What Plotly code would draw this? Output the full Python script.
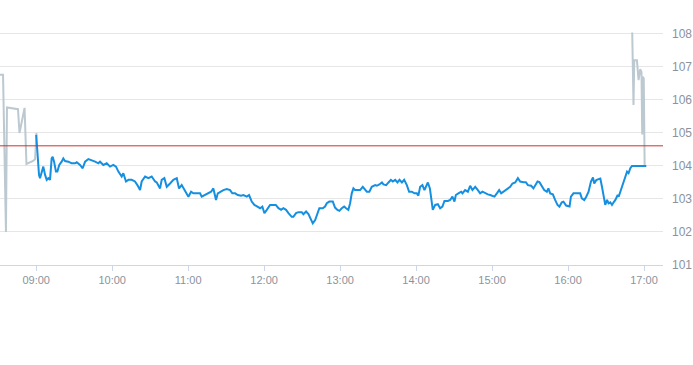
import pandas as pd
import plotly.graph_objects as go

# ---- data ----
session_day = "2024-01-02 09:00"
prev_close = 104.61

# main session (blue): minutes after 09:00, price
main_minutes = [0, 2.2, 3.0, 4.3, 5.6, 7.0, 8.3, 9.6, 10.9, 12.2, 13.0, 14.1, 15.6, 16.7, 18.2, 20.1,
                21.4, 22.8, 25.4, 28.0, 30.7, 32.0, 34.6, 36.7, 38.6, 41.2, 43.8, 46.5, 49.1, 50.4,
                53.0, 55.7, 58.3, 60.9, 63.0, 64.9, 67.5, 68.8, 70.9, 72.8, 75.4, 78.0, 79.9, 82.0,
                83.3, 86.0, 88.6, 91.2, 93.9, 95.2, 97.8, 99.1, 101.2, 103.1, 105.7, 108.3, 111.0,
                112.8, 114.9, 117.0, 120.2, 122.3, 124.1, 126.8, 129.4, 130.7, 133.3, 136.0, 138.1,
                139.9, 142.0, 143.4, 145.2, 147.8, 150.5, 153.1, 154.9, 157.1, 159.2, 161.8, 163.6,
                166.3, 168.1, 170.2, 172.3, 174.2, 176.8, 178.6, 180.2, 182.1, 184.7, 187.3, 189.2,
                191.3, 193.4, 195.2, 197.3, 199.2, 201.8, 203.1, 205.2, 207.1, 209.7, 211.0, 213.1,
                215.0, 216.3, 218.4, 220.3, 222.1, 223.6, 226.3, 228.1, 229.5, 231.5, 234.2, 236.0,
                237.9, 239.4, 241.3, 243.2, 244.7, 246.5, 247.9, 249.2, 250.5, 251.8, 253.7, 255.8,
                257.9, 259.7, 261.1, 263.1, 265.0, 267.7, 269.0, 271.0, 273.0, 274.2, 276.4, 278.2,
                280.1, 281.6, 283.5, 285.3, 286.9, 288.8, 290.6, 292.7, 294.5, 296.6, 298.7, 300.6,
                301.8, 303.2, 305.0, 306.6, 307.7, 309.3, 310.9, 312.4, 313.2, 315.1, 317.2, 319.0,
                320.8, 322.4, 325.1, 326.9, 328.7, 330.3, 331.4, 333.4, 335.6, 336.6, 338.7, 340.9,
                342.7, 344.5, 346.7, 348.8, 350.6, 352.4, 354.6, 356.7, 358.5, 360.3, 361.9, 363.8,
                365.6, 367.2, 369.0, 370.9, 372.5, 374.3, 376.1, 378.3, 380.4, 382.2, 384.8, 386.7,
                388.3, 390.9, 392.7, 394.0, 395.9, 397.4, 399.3, 401.2, 403.3, 404.5, 405.9, 408.0,
                409.8, 411.7, 413.2, 415.1, 416.4, 418.5, 421.2, 422.3, 424.3, 427.0, 429.6, 430.9,
                432.8, 434.4, 436.2, 438.1, 439.7, 440.7, 442.3, 444.1, 445.5, 446.8, 448.1, 449.4,
                450.8, 452.0, 453.4, 454.7, 456.0, 457.4, 459.2, 460.0, 461.3, 462.6, 463.9, 465.2,
                466.6, 467.8, 469.2, 470.5, 481.8]
main_prices = [104.94, 103.73, 103.63, 103.83, 103.98, 103.73, 103.58, 103.63, 103.58, 104.23, 104.28,
               104.13, 103.83, 103.83, 104.03, 104.13, 104.23, 104.15, 104.13, 104.08, 104.08, 104.11,
               104.03, 103.93, 104.13, 104.21, 104.18, 104.13, 104.08, 104.13, 104.03, 104.08, 103.98,
               104.03, 103.98, 103.83, 103.68, 103.78, 103.53, 103.58, 103.58, 103.53, 103.42, 103.27,
               103.53, 103.68, 103.63, 103.68, 103.53, 103.50, 103.32, 103.58, 103.63, 103.37, 103.47,
               103.58, 103.63, 103.32, 103.42, 103.27, 103.07, 103.22, 103.17, 103.17, 103.17, 103.07,
               103.12, 103.17, 103.22, 103.32, 102.97, 103.17, 103.22, 103.27, 103.30, 103.27, 103.17,
               103.17, 103.12, 103.10, 103.12, 103.07, 103.12, 102.92, 102.82, 102.77, 102.72, 102.77,
               102.57, 102.67, 102.82, 102.82, 102.82, 102.72, 102.67, 102.72, 102.67, 102.57, 102.46,
               102.46, 102.57, 102.60, 102.60, 102.54, 102.62, 102.54, 102.41, 102.26, 102.36, 102.57,
               102.72, 102.72, 102.77, 102.87, 102.92, 102.92, 102.74, 102.67, 102.64, 102.72, 102.77,
               102.72, 102.67, 102.87, 103.17, 103.32, 103.27, 103.27, 103.27, 103.37, 103.27, 103.22,
               103.22, 103.37, 103.42, 103.40, 103.44, 103.50, 103.44, 103.42, 103.50, 103.58, 103.53,
               103.58, 103.50, 103.58, 103.50, 103.58, 103.42, 103.22, 103.22, 103.17, 103.17, 103.10,
               103.37, 103.42, 103.27, 103.37, 103.50, 103.32, 102.87, 102.67, 102.82, 102.84, 102.72,
               102.77, 102.94, 102.94, 102.97, 103.07, 102.92, 103.12, 103.17, 103.22, 103.17, 103.27,
               103.22, 103.40, 103.27, 103.37, 103.27, 103.17, 103.22, 103.17, 103.14, 103.12, 103.10,
               103.07, 103.17, 103.27, 103.17, 103.22, 103.27, 103.32, 103.37, 103.47, 103.50, 103.63,
               103.53, 103.51, 103.51, 103.42, 103.40, 103.32, 103.42, 103.53, 103.51, 103.40, 103.27,
               103.22, 103.32, 103.17, 103.14, 102.97, 102.82, 102.77, 102.90, 102.92, 102.80, 102.77,
               103.07, 103.17, 103.17, 103.17, 103.02, 102.97, 103.07, 103.22, 103.53, 103.65, 103.47,
               103.57, 103.60, 103.62, 103.37, 103.12, 102.82, 102.97, 102.87, 102.90, 102.82, 102.90,
               102.97, 103.12, 103.07, 103.22, 103.37, 103.53, 103.68, 103.83, 103.78, 103.93, 104.00,
               104.00]

# pre-market and closing-auction quotes (grey): minutes after 09:00, price (None = gap)
extra_minutes = [-30.0, -26.2, -23.9, -23.1, -14.4, -13.2, -9.2, -7.7, -2.5, -0.9, 0.2,
                 None,
                 470.7, 471.7, 472.3, 474.4, 475.7, 477.0, 478.0, 478.6, 479.1, 479.8, 480.5]
extra_prices = [106.76, 106.76, 102.00, 105.77, 105.72, 105.00, 105.76, 104.06, 104.15, 104.20, 105.00,
                None,
                108.04, 105.85, 107.20, 107.20, 106.60, 106.93, 106.85, 104.95, 106.70, 106.65, 104.03]

x_range_minutes = [-28.6, 495.0]
y_ticks = [101, 102, 103, 104, 105, 106, 107, 108]
y_range = [101, 108.3]

# ---- build figure ----
t0 = pd.Timestamp(session_day)


def to_time(mins):
    return [None if m is None else t0 + pd.Timedelta(minutes=m) for m in mins]


label_color = "#8a939d"

fig = go.Figure()
fig.add_trace(go.Scatter(
    x=to_time(extra_minutes), y=extra_prices, mode="lines",
    line=dict(color="#bcc9d1", width=2), connectgaps=False, hoverinfo="skip"))
fig.add_trace(go.Scatter(
    x=to_time(main_minutes), y=main_prices, mode="lines",
    line=dict(color="#158fe0", width=2)))

fig.add_shape(type="line", xref="paper", x0=0, x1=1, yref="y", y0=prev_close, y1=prev_close,
              line=dict(color="#d0302b", width=1), layer="above")

fig.update_layout(
    width=693, height=365,
    margin=dict(l=0, r=30, t=24, b=100, autoexpand=False),
    plot_bgcolor="white", paper_bgcolor="white",
    showlegend=False,
    font=dict(family="Liberation Sans, Arial, sans-serif", color=label_color),
)
fig.update_xaxes(
    type="date",
    range=to_time(x_range_minutes),
    tickformat="%H:%M", dtick=3600000, tick0=t0,
    showgrid=False, zeroline=False,
    showline=True, linecolor="#ccd6eb", linewidth=1,
    ticks="outside", ticklen=5, tickcolor="#ccd6eb",
    tickfont=dict(size=11, color=label_color),
    automargin=False,
)
fig.update_yaxes(
    side="right", range=y_range,
    tickvals=y_ticks, ticktext=[str(v) for v in y_ticks],
    showgrid=True, gridcolor="#e6e6e6", gridwidth=1,
    zeroline=False, showline=False, ticks="",
    ticklabelstandoff=8,
    tickfont=dict(size=12, color=label_color),
    automargin=False,
)

fig.write_html("out.html")
